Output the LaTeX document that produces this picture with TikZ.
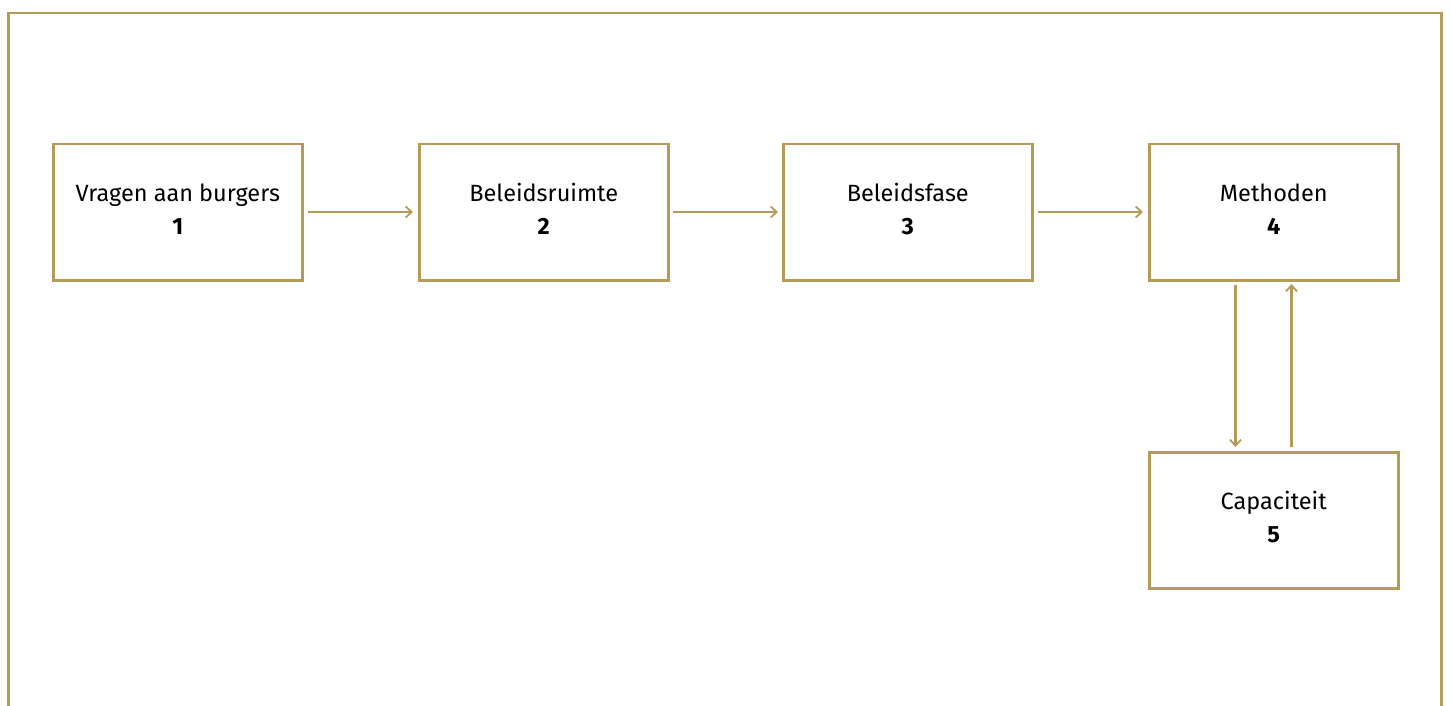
\documentclass[tikz,border=0pt]{standalone}
\usepackage{fontspec}
\setmainfont{Fira Sans}
\usetikzlibrary{arrows.meta}
\definecolor{gold}{HTML}{B59A58}
\begin{document}
\begin{tikzpicture}[x=1pt,y=-1pt,
  box/.style={draw=gold,line width=2.5pt,minimum width=249pt,minimum height=136pt,inner sep=0pt,anchor=north west},
  conn/.style={draw=gold,line width=2.5pt,-{Straight Barb[length=6pt,width=11pt,line width=1.8pt]}},
  lbl/.style={font=\fontsize{23.5}{28}\selectfont,text=black}]
\useasboundingbox (0,0) rectangle (1451,706);
\draw[gold,line width=2.5pt] (8.5,706) -- (8.5,13) -- (1441.5,13) -- (1441.5,706);
\node[box] (b1) at (52,143) {};
\node[box] (b2) at (418,143) {};
\node[box] (b3) at (782,143) {};
\node[box] (b4) at (1148,143) {};
\node[box] (b5) at (1148,451) {};
\foreach \n/\t/\k in {b1/Vragen aan burgers/1,b2/Beleidsruimte/2,b3/Beleidsfase/3,b4/Methoden/4,b5/Capaciteit/5}{
  \node[lbl,anchor=base] (\n t) at ([yshift=11pt]\n.center) {\t};
  \node[lbl,anchor=base,font=\fontsize{23.5}{28}\selectfont\bfseries] (\n k) at ([yshift=-22pt]\n.center) {\k};
}
\coordinate (a1s) at (308,212); \coordinate (a1e) at (413,212);
\coordinate (a2s) at (673,212); \coordinate (a2e) at (778,212);
\coordinate (a3s) at (1038,212); \coordinate (a3e) at (1143,212);
\draw[conn] (a1s) -- (a1e);
\draw[conn] (a2s) -- (a2e);
\draw[conn] (a3s) -- (a3e);
\coordinate (d1) at (1235.5,285); \coordinate (d2) at (1235.5,447);
\coordinate (u1) at (1291.5,447); \coordinate (u2) at (1291.5,284);
\draw[conn] (d1) -- (d2);
\draw[conn] (u1) -- (u2);
\end{tikzpicture}
\end{document}
